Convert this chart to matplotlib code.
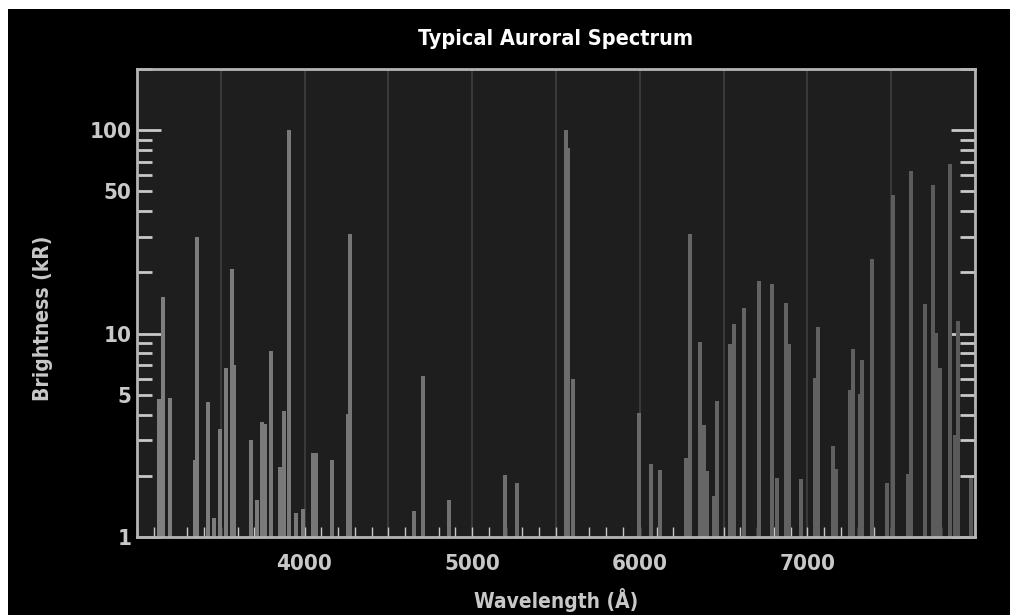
import matplotlib
matplotlib.use("Agg")
import matplotlib.pyplot as plt
from matplotlib.patches import Rectangle
from matplotlib.ticker import MultipleLocator, FuncFormatter, LogLocator
from matplotlib import font_manager

# Emission lines (wavelength in Angstrom, brightness in kR)
wavelengths = [
    3131, 3153, 3197, 3344, 3360, 3424, 3459, 3496, 3534, 3570,
    3579, 3680, 3716, 3747, 3764, 3802, 3853, 3875, 3907, 3949,
    3990, 4050, 4070, 4163, 4257, 4273, 4652, 4708, 4860, 5196,
    5269, 5562, 5572, 5601, 5998, 6065, 6120, 6275, 6297, 6359,
    6381, 6403, 6444, 6460, 6538, 6560, 6622, 6709, 6787, 6819,
    6873, 6888, 6964, 7045, 7063, 7154, 7168, 7252, 7270, 7314,
    7324, 7386, 7473, 7510, 7602, 7618, 7704, 7749, 7766, 7789,
    7851, 7882, 7899, 7978,
]
brightness = [
    4.75, 15.1, 4.8, 2.4, 29.8, 4.6, 1.24, 3.4, 6.8, 20.7,
    7.0, 3.0, 1.52, 3.66, 3.58, 8.2, 2.22, 4.18, 100, 1.31,
    1.38, 2.6, 2.6, 2.39, 4.02, 30.8, 1.34, 6.18, 1.52, 2.02,
    1.85, 100, 82, 6.0, 4.05, 2.28, 2.13, 2.45, 30.8, 9.1,
    3.55, 2.11, 1.6, 4.64, 8.85, 11.1, 13.4, 18.1, 17.6, 1.94,
    14.2, 8.85, 1.92, 6.07, 10.8, 2.81, 2.15, 5.28, 8.36, 5.04,
    7.41, 23.2, 1.85, 48, 2.04, 62.9, 14.0, 53.8, 10.1, 6.77,
    68.1, 3.17, 11.5, 1.94,
]
x_labels = {4000: "4000", 5000: "5000", 6000: "6000", 7000: "7000"}
y_labels = {1: "1", 5: "5", 10: "10", 50: "50", 100: "100"}

fg = "#c8c8c8"

# a condensed bold face is closest to the original lettering
narrow = None
for f in font_manager.fontManager.ttflist:
    if "Condensed" in f.fname and "Bold" in f.fname and "Oblique" not in f.fname:
        narrow = f.fname
        break
if narrow:
    fp = font_manager.FontProperties(fname=narrow)
else:
    fp = font_manager.FontProperties(family="DejaVu Sans", weight="bold")


def fprop(size):
    p = fp.copy()
    p.set_size(size)
    return p


fig = plt.figure(figsize=(10.1, 6.15), dpi=100, facecolor="black")
ax = fig.add_axes([0.1356, 0.1268, 0.8297, 0.761])
ax.set_facecolor("#1e1e1e")

# white strips along the top and left edge of the original image
fig.patches.append(Rectangle((0, 1 - 9 / 615), 1, 9 / 615, transform=fig.transFigure,
                             facecolor="white", edgecolor="none", zorder=0))
fig.patches.append(Rectangle((0, 0), 8 / 1010, 1, transform=fig.transFigure,
                             facecolor="white", edgecolor="none", zorder=0))


def shade(w):
    # lines get a bit darker towards the red end
    g = int(0x80 - (w - 3000) / 5000 * 0x26)
    return "#%02x%02x%02x" % (g, g, g)


ax.bar(wavelengths, brightness, width=24, color=[shade(w) for w in wavelengths],
       linewidth=0, zorder=2)

ax.set_yscale("log")
ax.set_xlim(3000, 8000)
ax.set_ylim(1, 200)

ax.xaxis.set_major_locator(MultipleLocator(500))
ax.xaxis.set_minor_locator(MultipleLocator(100))
ax.xaxis.set_major_formatter(FuncFormatter(lambda v, p: x_labels.get(int(round(v)), "")))
ax.grid(True, axis="x", which="major", color="#3c3c3c", linewidth=1.3, zorder=1)
ax.set_axisbelow(True)

ax.yaxis.set_major_locator(LogLocator(base=10, numticks=10))
ax.yaxis.set_minor_locator(LogLocator(base=10, subs=range(2, 10), numticks=10))
ax.yaxis.set_major_formatter(FuncFormatter(lambda v, p: y_labels.get(int(round(v)), "")))
ax.yaxis.set_minor_formatter(FuncFormatter(lambda v, p: y_labels.get(int(round(v)), "")))

ax.tick_params(axis="x", which="both", direction="in", length=7, width=1, color=fg,
               labelcolor=fg, pad=12, top=False)
ax.tick_params(axis="y", which="major", direction="in", length=17, width=2, color=fg,
               labelcolor=fg, right=True, pad=4)
ax.tick_params(axis="y", which="minor", direction="in", length=11, width=2, color=fg,
               labelcolor=fg, right=True, pad=4)
for lab in ax.get_xticklabels() + ax.get_yticklabels() + ax.get_yticklabels(minor=True):
    lab.set_fontproperties(fprop(16))

for s in ax.spines.values():
    s.set_color("#b4b4b4")
    s.set_linewidth(2)

ax.set_title("Typical Auroral Spectrum", color="white", fontproperties=fprop(15.5), pad=17)
ax.set_xlabel("Wavelength (Å)", color=fg, fontproperties=fprop(15))
ax.set_ylabel("Brightness (kR)", color=fg, fontproperties=fprop(15))
ax.xaxis.set_label_coords(0.5, -0.108)
ax.yaxis.set_label_coords(-0.1, 0.468)

fig.savefig("out.png", dpi=100, facecolor="black")
